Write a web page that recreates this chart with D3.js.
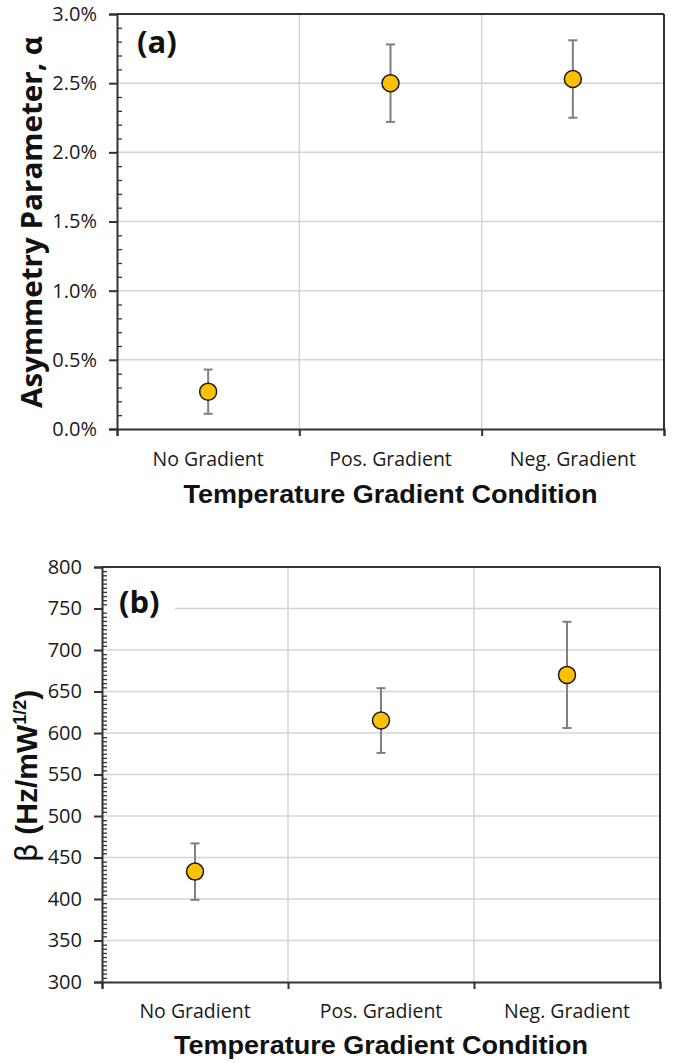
<!DOCTYPE html>
<html>
<head>
<meta charset="utf-8">
<script src="https://cdn.jsdelivr.net/npm/d3@7/dist/d3.min.js"></script>
<style>
  html, body { margin: 0; padding: 0; background: #fff; }
  svg { display: block; }
</style>
</head>
<body>
<svg id="chart" width="674" height="1063"></svg>
<script>
// ---- data ----
const categories = ["No Gradient", "Pos. Gradient", "Neg. Gradient"];
const alphaValues = [0.0027, 0.0250, 0.0253];
const alphaErrors = [0.0016, 0.0028, 0.0028];
const betaValues = [433, 615, 670];
const betaErrors = [34, 39, 64];
const alphaTicks = [0, 0.005, 0.01, 0.015, 0.02, 0.025, 0.03];
const betaTicks = [300, 350, 400, 450, 500, 550, 600, 650, 700, 750, 800];

const svg = d3.select("#chart");
const tickFont = "'Open Sans', sans-serif";

function panel(cfg) {
  const g = svg.append("g");
  const {left, right, top, bottom} = cfg;
  const x = d3.scaleBand().domain(categories).range([left, right]).padding(0);
  const xb = d3.scaleLinear().domain([0, categories.length]).range([left, right]);
  const y = d3.scaleLinear().domain(cfg.domain).range([bottom, top]);

  // gridlines horizontal
  g.append("g").selectAll("line").data(cfg.ticks.slice(1, -1)).join("line")
    .attr("x1", left).attr("x2", right)
    .attr("y1", d => y(d)).attr("y2", d => y(d))
    .attr("stroke", "#d4d4d4").attr("stroke-width", 1.5);
  // gridlines vertical
  g.append("g").selectAll("line").data(d3.range(1, categories.length)).join("line")
    .attr("x1", d => xb(d)).attr("x2", d => xb(d))
    .attr("y1", top).attr("y2", bottom)
    .attr("stroke", "#d4d4d4").attr("stroke-width", 1.5);

  // panel label with white background
  if (cfg.labelBg) {
    g.append("rect").attr("x", left + 2).attr("y", cfg.labelY - 28)
      .attr("width", cfg.labelBgW).attr("height", 36).attr("fill", "#fff");
  }
  g.append("text").attr("x", cfg.labelX).attr("y", cfg.labelY)
    .attr("font-family", "'Open Sans', sans-serif").attr("font-weight", 700)
    .attr("font-size", 31).attr("fill", "#111").text(cfg.label);

  // border top & right
  g.append("line").attr("x1", left).attr("x2", right).attr("y1", top).attr("y2", top)
    .attr("stroke", "#333").attr("stroke-width", 2);
  g.append("line").attr("x1", right).attr("x2", right).attr("y1", top).attr("y2", bottom)
    .attr("stroke", "#333").attr("stroke-width", 2);

  // minor ticks (inside)
  const minorAxis = d3.axisRight(y).tickValues(cfg.minor).tickSize(5).tickFormat("");
  const gm = g.append("g").attr("transform", `translate(${left},0)`).call(minorAxis);
  gm.select(".domain").remove();
  gm.selectAll("line").attr("stroke", "#333").attr("stroke-width", 1.3);

  // major y axis
  const yAxis = d3.axisLeft(y).tickValues(cfg.ticks).tickSize(8).tickPadding(12)
    .tickFormat(cfg.format);
  const gy = g.append("g").attr("transform", `translate(${left},0)`).call(yAxis);
  gy.select(".domain").attr("stroke", "#333").attr("stroke-width", 2);
  gy.selectAll(".tick line").attr("stroke", "#333").attr("stroke-width", 2);
  gy.selectAll("text").attr("font-family", tickFont).attr("font-size", 20)
    .attr("fill", "#1a1a1a");

  // x axis boundary ticks
  const xAxis = d3.axisBottom(xb).tickValues(d3.range(0, categories.length + 1))
    .tickSize(7).tickFormat("");
  const gx = g.append("g").attr("transform", `translate(0,${bottom})`).call(xAxis);
  gx.select(".domain").attr("stroke", "#333").attr("stroke-width", 2);
  gx.selectAll(".tick line").attr("stroke", "#333").attr("stroke-width", 2);

  // category labels
  const xl = d3.axisBottom(x).tickSize(0).tickPadding(0);
  const gl = g.append("g").attr("transform", `translate(0,${cfg.catY})`).call(xl);
  gl.select(".domain").remove();
  gl.selectAll("text").attr("dy", 0).attr("font-family", tickFont)
    .attr("font-size", 19.5).attr("fill", "#1a1a1a");

  // error bars
  const eb = g.append("g").selectAll("g").data(cfg.values).join("g");
  eb.append("line")
    .attr("x1", (d, i) => x(categories[i]) + x.bandwidth() / 2)
    .attr("x2", (d, i) => x(categories[i]) + x.bandwidth() / 2)
    .attr("y1", (d, i) => y(d + cfg.errors[i]))
    .attr("y2", (d, i) => y(d - cfg.errors[i]))
    .attr("stroke", "#7f7f7f").attr("stroke-width", 2);
  [1, -1].forEach(s => {
    eb.append("line")
      .attr("x1", (d, i) => x(categories[i]) + x.bandwidth() / 2 - 4.5)
      .attr("x2", (d, i) => x(categories[i]) + x.bandwidth() / 2 + 4.5)
      .attr("y1", (d, i) => y(d + s * cfg.errors[i]))
      .attr("y2", (d, i) => y(d + s * cfg.errors[i]))
      .attr("stroke", "#7f7f7f").attr("stroke-width", 2);
  });
  // markers
  g.append("g").selectAll("circle").data(cfg.values).join("circle")
    .attr("cx", (d, i) => x(categories[i]) + x.bandwidth() / 2)
    .attr("cy", d => y(d))
    .attr("r", 8.5)
    .attr("fill", "#FFC000").attr("stroke", "#1a1a1a").attr("stroke-width", 1.5);

  // x title
  g.append("text").attr("x", (left + right) / 2 + cfg.xTitleShift).attr("y", cfg.xTitleY)
    .attr("text-anchor", "middle")
    .attr("font-family", "'Liberation Sans', Arial, sans-serif").attr("font-weight", 700)
    .attr("font-size", 25).attr("textLength", 414).attr("lengthAdjust", "spacingAndGlyphs")
    .attr("fill", "#111").text("Temperature Gradient Condition");
  return g;
}

const gA = panel({
  left: 117, right: 664, top: 14, bottom: 429,
  domain: [0, 0.03], ticks: alphaTicks,
  minor: d3.range(0, 31).map(d => d / 1000).filter(d => Math.round(d * 1000) % 5 !== 0),
  format: d3.format(".1%"),
  values: alphaValues, errors: alphaErrors,
  label: "(a)", labelX: 137, labelY: 53, labelBg: false,
  catY: 466, xTitleY: 503, xTitleShift: 0
});
// y title a
gA.append("text")
  .attr("transform", "translate(42,222) rotate(-90)")
  .attr("text-anchor", "middle")
  .attr("font-family", "'Open Sans', sans-serif").attr("font-weight", 700)
  .attr("font-size", 29).attr("textLength", 372).attr("lengthAdjust", "spacingAndGlyphs")
  .attr("fill", "#111").text("Asymmetry Parameter, α");

const gB = panel({
  left: 102, right: 660, top: 567, bottom: 982,
  domain: [300, 800], ticks: betaTicks,
  minor: d3.range(300, 801, 5).filter(d => d % 50 !== 0),
  format: d3.format("d"),
  values: betaValues, errors: betaErrors,
  label: "(b)", labelX: 119, labelY: 613, labelBg: true, labelBgW: 71,
  catY: 1018, xTitleY: 1054, xTitleShift: 0
});
// y title b
const tb = gB.append("text")
  .attr("transform", "translate(37,776) rotate(-90)")
  .attr("text-anchor", "middle")
  .attr("font-family", "'Liberation Sans', Arial, sans-serif").attr("font-weight", 700)
  .attr("font-size", 30).attr("fill", "#111");
tb.append("tspan").attr("font-weight", 400).attr("font-family", "'DejaVu Sans', sans-serif").text("β");
tb.append("tspan").text(" (Hz/mW");
tb.append("tspan").attr("font-size", 18).attr("dy", -11).text("1/2");
tb.append("tspan").attr("dy", 11).text(")");
</script>
</body>
</html>
